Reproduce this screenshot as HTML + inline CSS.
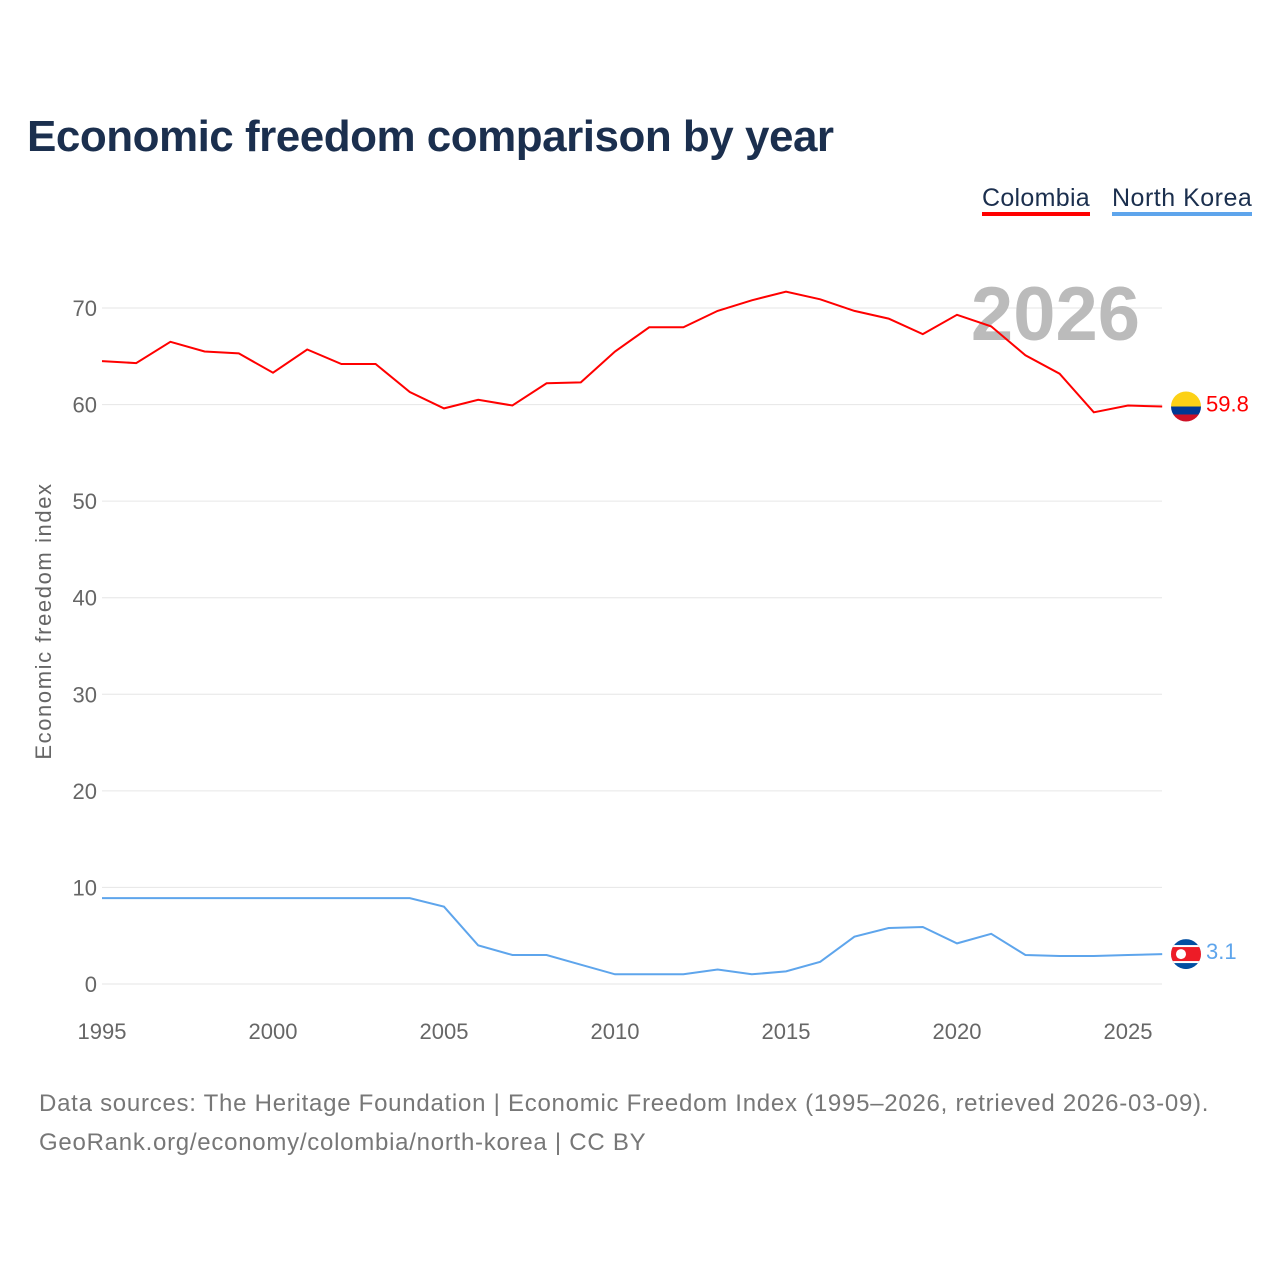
<!DOCTYPE html>
<html><head><meta charset="utf-8"><style>
body{margin:0;background:#fff;font-family:"Liberation Sans",sans-serif}
#wrap{position:relative;width:1280px;height:1280px;overflow:hidden}
.t{position:absolute;white-space:nowrap}
</style></head><body>
<div id="wrap">
<div class="t" style="left:27px;top:112px;font-size:44px;font-weight:bold;color:#1b2f4e;letter-spacing:-0.5px">Economic freedom comparison by year</div>
<div class="t" style="left:982px;top:184px;font-size:25px;color:#1b2f4e;border-bottom:4px solid #ff0000;line-height:28px;letter-spacing:0.3px">Colombia</div>
<div class="t" style="left:1112px;top:184px;font-size:25px;color:#1b2f4e;border-bottom:4px solid #5ea5ec;line-height:28px;letter-spacing:0.5px">North Korea</div>
<div class="t" style="left:39px;top:1084px;font-size:24px;color:#777;line-height:39px;letter-spacing:0.74px">Data sources: The Heritage Foundation | Economic Freedom Index (1995–2026, retrieved 2026-03-09).<br>GeoRank.org/economy/colombia/north-korea | CC BY</div>
<svg id="chart" width="1280" height="1280" style="position:absolute;left:0;top:0"></svg>
</div>
<script>
const years=[1995,1996,1997,1998,1999,2000,2001,2002,2003,2004,2005,2006,2007,2008,2009,2010,2011,2012,2013,2014,2015,2016,2017,2018,2019,2020,2021,2022,2023,2024,2025,2026];
const colombia=[64.5,64.3,66.5,65.5,65.3,63.3,65.7,64.2,64.2,61.3,59.6,60.5,59.9,62.2,62.3,65.5,68.0,68.0,69.7,70.8,71.7,70.9,69.7,68.9,67.3,69.3,68.1,65.1,63.2,59.2,59.9,59.8];
const northKorea=[8.9,8.9,8.9,8.9,8.9,8.9,8.9,8.9,8.9,8.9,8.0,4.0,3.0,3.0,2.0,1.0,1.0,1.0,1.5,1.0,1.3,2.3,4.9,5.8,5.9,4.2,5.2,3.0,2.9,2.9,3.0,3.1];
const yTicks=[0,10,20,30,40,50,60,70];
const xTicks=[1995,2000,2005,2010,2015,2020,2025];
const NS='http://www.w3.org/2000/svg';
const svg=document.getElementById('chart');
const x=v=>102+(v-1995)*34.2;
const y=v=>984-v*9.657;
function mk(tag,attrs,parent){const e=document.createElementNS(NS,tag);for(const k in attrs)e.setAttribute(k,attrs[k]);(parent||svg).appendChild(e);return e;}
yTicks.forEach(t=>{
  const l=mk('line',{x1:102,x2:1162,y1:y(t),y2:y(t),stroke:'#e6e6e6','stroke-width':1});
  
  
  const tx=mk('text',{x:97,y:y(t)+8,'text-anchor':'end','font-size':22,fill:'#666','font-family':'Liberation Sans'});
  tx.textContent=t;
  
  
});
xTicks.forEach(t=>{
  const tx=mk('text',{x:x(t),y:1039,'text-anchor':'middle','font-size':22,fill:'#666','font-family':'Liberation Sans'});
  tx.textContent=t;
  
  
});
const yt=mk('text',{transform:'translate(51,621) rotate(-90)','text-anchor':'middle','font-size':22,fill:'#666','font-family':'Liberation Sans','letter-spacing':'1.6'});
yt.textContent='Economic freedom index';


const yr=mk('text',{x:1140,y:340,'text-anchor':'end','font-size':76,'font-weight':'bold',fill:'#bbb','font-family':'Liberation Sans'});
yr.textContent='2026';


function series(vals,color,name){
  const p=mk('path',{d:vals.map((v,i)=>(i?'L':'M')+x(years[i]).toFixed(1)+','+y(v).toFixed(1)).join(''),fill:'none',stroke:color,'stroke-width':2});
  
  
}
series(colombia,'#ff0000','colombia');
series(northKorea,'#5ea5ec','north-korea');
const cy=y(colombia[colombia.length-1]), ny=y(northKorea[northKorea.length-1]);
const defs=mk('defs',{});
const c1=mk('clipPath',{id:'cf'},defs);mk('circle',{cx:1186,cy:cy,r:15},c1);
const c2=mk('clipPath',{id:'nf'},defs);mk('circle',{cx:1186,cy:ny,r:15},c2);
const fc=mk('g',{'clip-path':'url(#cf)'});


mk('rect',{x:1171,y:cy-15,width:30,height:15,fill:'#fcd116'},fc);
mk('rect',{x:1171,y:cy,width:30,height:8,fill:'#003893'},fc);
mk('rect',{x:1171,y:cy+8,width:30,height:7,fill:'#ce1126'},fc);
const fn=mk('g',{'clip-path':'url(#nf)'});


mk('rect',{x:1171,y:ny-15,width:30,height:30,fill:'#024fa2'},fn);
mk('rect',{x:1171,y:ny-9,width:30,height:18,fill:'#fff'},fn);
mk('rect',{x:1171,y:ny-7,width:30,height:14,fill:'#ed1c27'},fn);
mk('circle',{cx:1181,cy:ny,r:5,fill:'#fff'},fn);
const l1=mk('text',{x:1206,y:cy+5,'font-size':22,fill:'#ff0000','font-family':'Liberation Sans'});
l1.textContent=colombia[colombia.length-1].toFixed(1);


const l2=mk('text',{x:1206,y:ny+5,'font-size':22,fill:'#5ea5ec','font-family':'Liberation Sans'});
l2.textContent=northKorea[northKorea.length-1].toFixed(1);


</script>
</body></html>
